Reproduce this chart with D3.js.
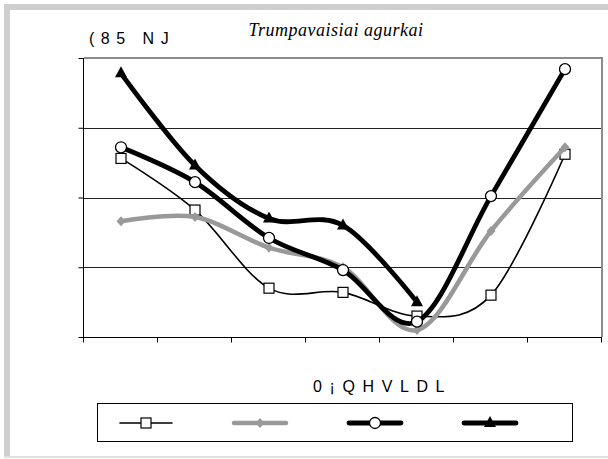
<!DOCTYPE html>
<html><head><meta charset="utf-8">
<script src="https://cdn.jsdelivr.net/npm/d3@7"></script>
<style>
html,body{margin:0;padding:0;background:#fff;}
#wrap{position:relative;width:608px;height:459px;overflow:hidden;}
#fr-top{position:absolute;left:4px;top:4px;width:604px;height:6px;background:#cfcfcf;}
#fr-left{position:absolute;left:4px;top:4px;width:6px;height:453px;background:#cfcfcf;}
#fr-bot{position:absolute;left:4px;top:456px;width:604px;height:2px;background:#e0e0e0;}
svg{display:block;position:absolute;left:0;top:0;}
</style></head>
<body>
<div id="wrap"><div id="fr-top"></div><div id="fr-left"></div><div id="fr-bot"></div></div>
<script>
// ---- data ----
const months = ["1","2","3","4","5","6","7"];
const yTicks = [0, 0.5, 1, 1.5, 2];
const seriesSquare   = [1.28, 0.91, 0.35, 0.32, 0.15, 0.30, 1.31];
const seriesDiamond  = [0.83, 0.86, 0.64, 0.50, 0.05, 0.76, 1.36];
const seriesCircle   = [1.36, 1.11, 0.71, 0.48, 0.11, 1.01, 1.92];
const seriesTriangle = [1.89, 1.23, 0.85, 0.80, 0.25];
const titleText = "Trumpavaisiai agurkai";
const yAxisTitle = "(85 NJ";
const xAxisTitle = "0¡QHVLDL";

(function () {
const W = 608, H = 459;
const svg = d3.select("#wrap").append("svg").attr("width", W).attr("height", H);

const pLeft = 84, pRight = 602, pTop = 58, pBottom = 337;
const x = d3.scaleBand().domain(months).range([pLeft, pRight]);
const y = d3.scaleLinear().domain([0, 2]).range([pBottom, pTop]);
const cx = m => x(m) + x.bandwidth()/2;

// gridlines
svg.append("g").selectAll("line").data(yTicks.slice(1, -1)).join("line")
  .attr("x1", pLeft).attr("x2", pRight - 1)
  .attr("y1", d => Math.round(y(d)) + 0.5).attr("y2", d => Math.round(y(d)) + 0.5)
  .attr("stroke", "#222").attr("stroke-width", 1);
// plot border top/right (gray)
svg.append("line").attr("x1", pLeft).attr("x2", pRight).attr("y1", pTop).attr("y2", pTop)
  .attr("stroke", "#8c8c8c").attr("stroke-width", 2);
svg.append("line").attr("x1", pRight).attr("x2", pRight).attr("y1", pTop - 1).attr("y2", pBottom)
  .attr("stroke", "#8c8c8c").attr("stroke-width", 2);

// axes
const yAxis = d3.axisLeft(y).tickValues(yTicks).tickSize(5).tickFormat("");
const gy = svg.append("g").attr("transform", `translate(${pLeft - 0.5},0)`).call(yAxis);
gy.selectAll("path").attr("stroke", "#000").attr("d", `M0,${y(2)}V${y(0)}`);
gy.selectAll("line").attr("stroke", "#000");

const xTickVals = [pLeft].concat(months.map(m => x(m) + x.bandwidth()));
const gx = svg.append("g").attr("transform", `translate(0,${pBottom + 0.5})`);
gx.append("line").attr("x1", pLeft - 5).attr("x2", pRight).attr("y1", 0).attr("y2", 0).attr("stroke", "#000");
gx.selectAll("line.t").data(xTickVals).join("line").attr("class","t")
  .attr("x1", d => Math.round(d) - 0.5).attr("x2", d => Math.round(d) - 0.5)
  .attr("y1", 0).attr("y2", 5).attr("stroke", "#000");

// titles
svg.append("text").attr("x", 336).attr("y", 36).attr("text-anchor", "middle")
  .style("font-family", "'Liberation Serif', 'Times New Roman', serif").style("font-style", "italic")
  .style("font-size", "18px").style("letter-spacing", "0.5px").text(titleText);
svg.append("text").attr("x", 89).attr("y", 44)
  .style("font-family", "'Liberation Sans', Arial, sans-serif").style("font-size", "16px")
  .style("letter-spacing", "6.5px").text(yAxisTitle);
svg.append("text").attr("x", 313).attr("y", 392)
  .style("font-family", "'Liberation Sans', Arial, sans-serif").style("font-size", "16px")
  .style("letter-spacing", "7.6px").text(xAxisTitle);

// series
const line = d3.line().curve(d3.curveCardinal.tension(0));
const series = [
  {vals: seriesSquare, color: "#000", width: 1.6, marker: "square"},
  {vals: seriesDiamond, color: "#999", width: 4.5, marker: "diamond"},
  {vals: seriesCircle, color: "#000", width: 4.8, marker: "circle"},
  {vals: seriesTriangle, color: "#000", width: 4.8, marker: "triangle"}
];

function drawMarker(g, type, px, py) {
  if (type === "square") {
    g.append("rect").attr("x", px - 5).attr("y", py - 5).attr("width", 10).attr("height", 10)
      .attr("fill", "#fff").attr("stroke", "#000").attr("stroke-width", 1.2);
  } else if (type === "diamond") {
    g.append("path").attr("d", `M${px},${py-5}L${px+4.5},${py}L${px},${py+5}L${px-4.5},${py}Z`).attr("fill", "#999");
  } else if (type === "circle") {
    g.append("circle").attr("cx", px).attr("cy", py).attr("r", 5.5)
      .attr("fill", "#fff").attr("stroke", "#000").attr("stroke-width", 1.3);
  } else if (type === "triangle") {
    g.append("path").attr("d", `M${px},${py-7}L${px+6},${py+4}L${px-6},${py+4}Z`).attr("fill", "#000");
  }
}

series.forEach(s => {
  const g = svg.append("g");
  const pts = s.vals.map((v, i) => [cx(months[i]), y(v)]);
  g.append("path").attr("d", line(pts)).attr("fill", "none")
    .attr("stroke", s.color).attr("stroke-width", s.width)
    .attr("stroke-linejoin", "round").attr("stroke-linecap", "round");
  pts.forEach(p => drawMarker(g, s.marker, p[0], p[1]));
});

// legend
svg.append("rect").attr("x", 97.5).attr("y", 403.5).attr("width", 475).attr("height", 38)
  .attr("fill", "none").attr("stroke", "#000").attr("stroke-width", 1);
const legX = [120, 234, 349, 464];
series.forEach((s, i) => {
  const g = svg.append("g");
  const x0 = legX[i], yy = 423;
  g.append("line").attr("x1", x0).attr("x2", x0 + 52).attr("y1", yy).attr("y2", yy)
    .attr("stroke", s.color).attr("stroke-width", s.width).attr("stroke-linecap", "round");
  drawMarker(g, s.marker, x0 + 26, yy);
});
})();
</script>
</body></html>
